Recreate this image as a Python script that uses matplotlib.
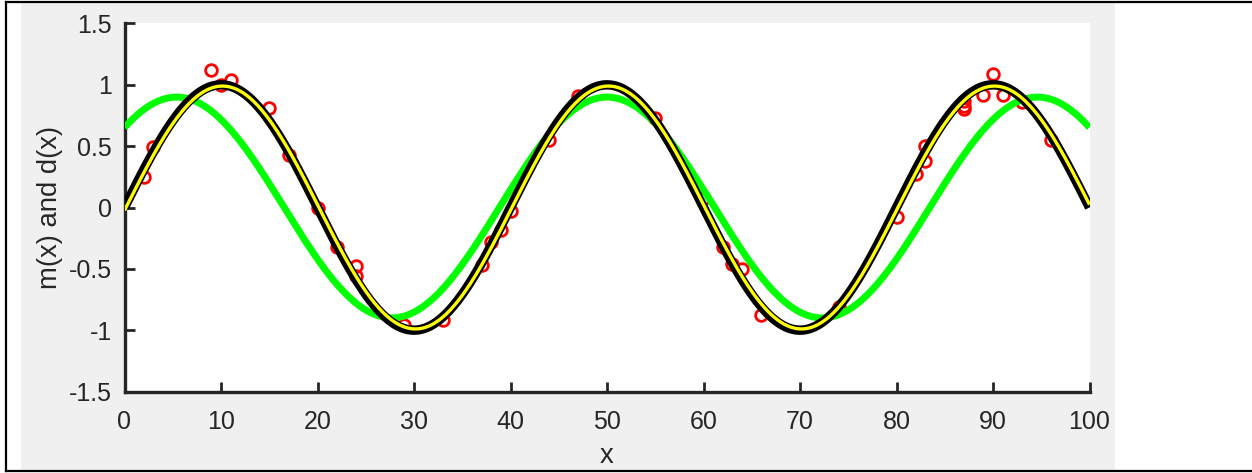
import numpy as np
import matplotlib
matplotlib.use("Agg")
import matplotlib.pyplot as plt
from matplotlib.patches import Rectangle
from matplotlib.lines import Line2D

plt.rcParams['font.family'] = ['Liberation Sans', 'DejaVu Sans']

# ---- data ----
data_x = [2, 3, 9, 10, 11, 15, 17, 20, 22, 24, 24, 29, 33, 37, 38, 39, 40,
          44, 47, 55, 60, 62, 63, 64, 66, 74, 80, 82, 83, 83, 87, 87, 87,
          89, 90, 91, 93, 96]
data_y = [0.25, 0.49, 1.12, 1.00, 1.04, 0.81, 0.43, 0.00, -0.32, -0.48, -0.56,
          -0.96, -0.92, -0.47, -0.28, -0.18, -0.03, 0.55, 0.91, 0.73, 0.08,
          -0.32, -0.46, -0.50, -0.88, -0.81, -0.08, 0.27, 0.38, 0.50, 0.80,
          0.83, 0.87, 0.92, 1.09, 0.92, 0.86, 0.55]

# model curve m(x): amplitude, period, shift
m_amp, m_period, m_shift = 1.0, 40.0, 0.0
# fitted curve (yellow)
f_amp, f_period, f_shift = 0.99, 40.0, 0.15
# green curve: cosine centred at x=50
g_amp, g_period, g_center = 0.9, 44.6, 50.0

x_range = (0, 100)
y_range = (-1.5, 1.5)
x_ticks = [0, 10, 20, 30, 40, 50, 60, 70, 80, 90, 100]
y_ticks = [-1.5, -1, -0.5, 0, 0.5, 1, 1.5]
y_tick_labels = ['-1.5', '-1', '-0.5', '0', '0.5', '1', '1.5']
x_label = 'x'
y_label = 'm(x) and d(x)'

# ---- figure ----
W, H = 1252, 473
fig = plt.figure(figsize=(W / 100, H / 100), dpi=100, facecolor='white')

# gray MATLAB figure background
bg = Rectangle((21 / W, 1 - 470 / H), (1115 - 21) / W, (470 - 3) / H,
               transform=fig.transFigure, facecolor='#f0f0f0',
               edgecolor='none', zorder=-10)
fig.patches.append(bg)
# border lines
for xx, yy in [([6 / W, 1], [1 - 2.5 / H, 1 - 2.5 / H]),
               ([6 / W, 1], [1 - 470.5 / H, 1 - 470.5 / H]),
               ([6 / W, 6 / W], [1 - 2.5 / H, 1 - 470.5 / H])]:
    fig.lines.append(Line2D(xx, yy, transform=fig.transFigure, color='black',
                            lw=1.6, zorder=-5))

ax = fig.add_axes([124.5 / W, 1 - 391.5 / H, (1089.5 - 124.5) / W, (391.5 - 23.5) / H])
ax.set_zorder(1)
ax.set_facecolor('white')

xs = np.linspace(x_range[0], x_range[1], 1001)
m_curve = m_amp * np.sin(2 * np.pi * (xs - m_shift) / m_period)
f_curve = f_amp * np.sin(2 * np.pi * (xs - f_shift) / f_period)
g_curve = g_amp * np.cos(2 * np.pi * (xs - g_center) / g_period)

ax.plot(data_x, data_y, linestyle='none', marker='o', markersize=8.4,
        markerfacecolor='none', markeredgecolor='#ff0000', markeredgewidth=2.0,
        zorder=2, clip_on=False)
ax.plot(xs, g_curve, color='#00ff00', lw=5.0, zorder=3, solid_capstyle='butt')
ax.plot(xs, m_curve, color='black', lw=6.8, zorder=4, solid_capstyle='butt')
ax.plot(xs, f_curve, color='#ffff00', lw=2.4, zorder=5, solid_capstyle='butt')

ax.set_xlim(*x_range)
ax.set_ylim(*y_range)
ax.set_xticks(x_ticks)
ax.set_xticklabels([str(t) for t in x_ticks])
ax.set_yticks(y_ticks)
ax.set_yticklabels(y_tick_labels)

for s in ['top', 'right']:
    ax.spines[s].set_visible(False)
for s in ['left', 'bottom']:
    ax.spines[s].set_color('#262626')
    ax.spines[s].set_linewidth(2.4)

ax.tick_params(axis='both', direction='in', length=7, width=2.0, color='#262626',
               labelcolor='#262626', labelsize=18)
ax.tick_params(axis='x', pad=13)
ax.tick_params(axis='y', pad=9)

ax.set_xlabel(x_label, fontsize=19.8, color='#262626', labelpad=7)
ax.set_ylabel(y_label, fontsize=19.8, color='#262626', labelpad=4)

fig.savefig('out.png', dpi=100, facecolor='white')
